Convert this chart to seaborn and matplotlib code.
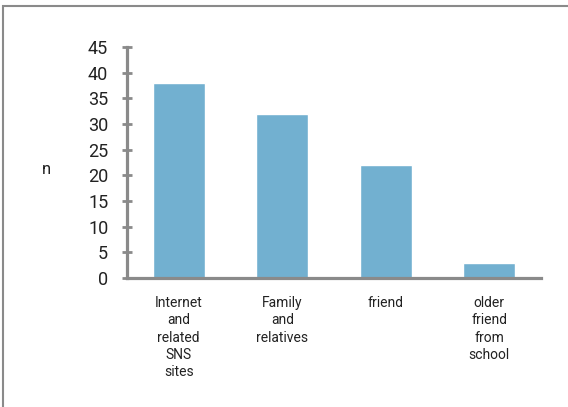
import matplotlib
matplotlib.use("Agg")
import matplotlib.pyplot as plt
import seaborn as sns
import pandas as pd
from matplotlib.patches import Rectangle

categories = ["Internet\nand\nrelated\nSNS\nsites", "Family\nand\nrelatives", "friend", "older\nfriend\nfrom\nschool"]
values = [38, 32, 22, 3]
yticks = [0, 5, 10, 15, 20, 25, 30, 35, 40, 45]

sns.set_theme(style="white")
plt.rcParams['font.family'] = ['Roboto', 'DejaVu Sans']

df = pd.DataFrame({"cat": categories, "n": values})

fig = plt.figure(figsize=(5.68, 4.07), dpi=100)
ax = fig.add_axes([127/568, 1-278/407, (541-127)/568, (278-47)/407])

sns.barplot(data=df, x="cat", y="n", color="#72b0d0", saturation=1, width=0.5, ax=ax)

ax.set_xlim(-0.5, 3.5)
ax.set_ylim(0, 45)
ax.set_yticks(yticks)
ax.set_yticklabels([str(t) for t in yticks], fontsize=13, color="#222222")
ax.set_xticks(range(len(categories)))
ax.set_xticklabels(categories, fontsize=10, color="#222222", linespacing=1.3, va="top")
ax.set_xlabel("")
ax.set_ylabel("n", rotation=0, fontsize=12, color="#222222", va="center", ha="center")
ax.yaxis.set_label_coords(-0.195, 0.47)

spine_color = "#8a8a8a"
for s in ["top", "right"]:
    ax.spines[s].set_visible(False)
for s in ["left", "bottom"]:
    ax.spines[s].set_color(spine_color)
    ax.spines[s].set_linewidth(2.3)

ax.tick_params(axis="y", which="major", direction="inout", length=7, width=2, color=spine_color, pad=10, left=True)
ax.tick_params(axis="x", which="major", length=0, pad=13)

# outer figure frame
fig.patches.append(Rectangle((3/568, -0.05), 1.1, (1-6/407)+0.05, transform=fig.transFigure,
                             fill=False, edgecolor="#8a8a8a", linewidth=1.5, clip_on=False))

fig.savefig("out.png", dpi=100)
